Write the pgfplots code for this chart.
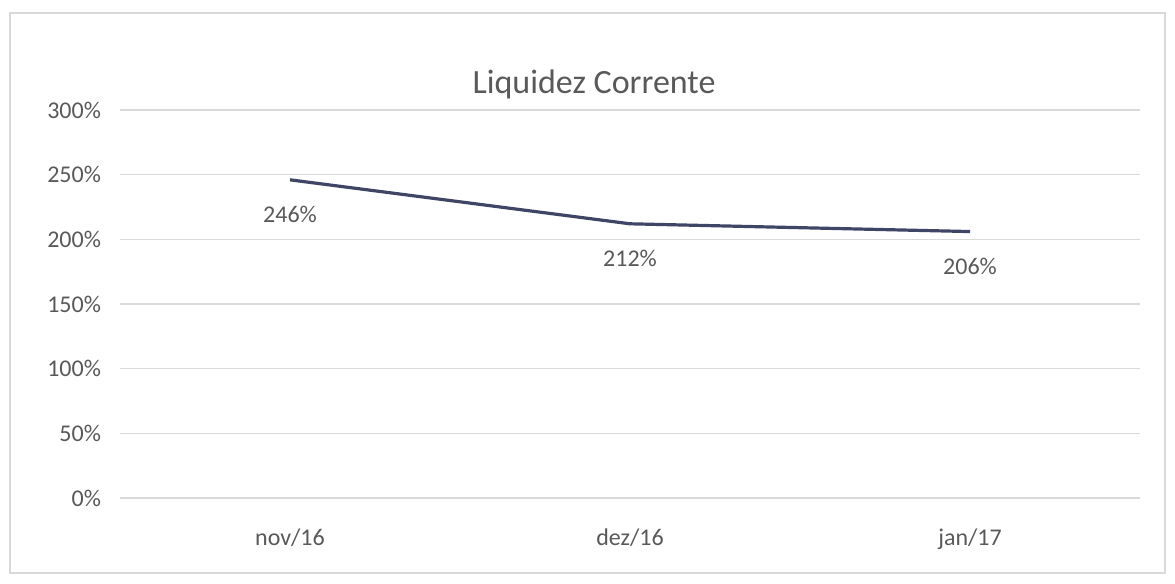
\documentclass[border=0pt]{standalone}
\usepackage{pgfplots}
\pgfplotsset{compat=1.18}
\usepackage{fontspec}
\setmainfont{Carlito}
\definecolor{txt}{HTML}{595959}
\definecolor{gridc}{HTML}{D9D9D9}
\definecolor{ln}{HTML}{3F4665}
\begin{document}
\begin{tikzpicture}
\begin{axis}[
  scale only axis,
  width=510pt, height=194pt,
  xmin=-0.5, xmax=2.5,
  ymin=0, ymax=300,
  ytick={0,50,...,300},
  yticklabel={\pgfmathprintnumber{\tick}\%},
  xtick={0,1,2},
  xticklabels={nov/16,dez/16,jan/17},
  /pgf/number format/assume math mode=true,
  axis line style={draw=none},
  tick style={draw=none},
  ymajorgrids, xmajorgrids=false,
  grid style={draw=gridc, line width=0.8pt},
  tick label style={font=\fontsize{12}{14}\selectfont, text=txt},
  yticklabel style={xshift=-6pt},
  xticklabel style={yshift=-12pt},
  title={Liquidez Corrente},
  title style={font=\fontsize{17}{20}\selectfont, text=txt, yshift=-4pt, xshift=-18pt},
  clip=false,
  nodes near coords={\pgfmathprintnumber{\pgfplotspointmeta}\%},
  nodes near coords style={font=\fontsize{12}{14}\selectfont, text=txt, anchor=north, yshift=-9pt},
]
\addplot[ln, line width=1.6pt, mark=none] coordinates {(0,246) (1,212) (2,206)};
\end{axis}
\draw[gridc, line width=0.8pt] ([shift={(-55pt,-37.5pt)}]current axis.south west) rectangle ([shift={(12.5pt,48.5pt)}]current axis.north east);
\path ([shift={(-60pt,-43pt)}]current axis.south west) rectangle ([shift={(17.5pt,55pt)}]current axis.north east);
\end{tikzpicture}
\end{document}
